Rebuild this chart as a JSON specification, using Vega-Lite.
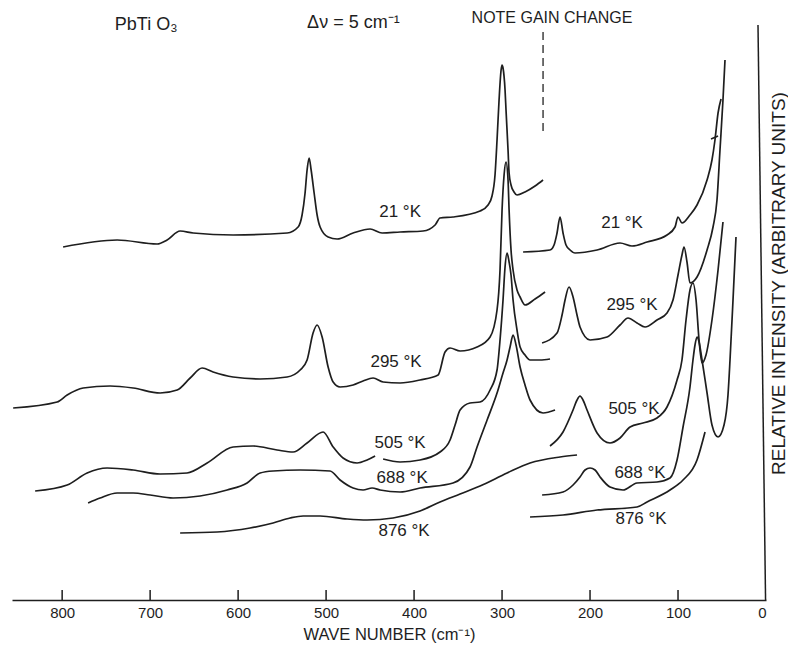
{
  "$schema": "https://vega.github.io/schema/vega-lite/v6.json",
  "width": 754,
  "height": 600,
  "autosize": {"type": "none"},
  "padding": {"left": 12, "top": 0, "right": 22, "bottom": 47},
  "background": "white",
  "config": {"view": {"stroke": null}, "font": "Liberation Sans"},
  "datasets": {
    "curves": [
      {"series": "21K-L", "wavenumber": 798.9, "intensity": 353},
      {"series": "21K-L", "wavenumber": 737.5, "intensity": 360},
      {"series": "21K-L", "wavenumber": 692.0, "intensity": 356},
      {"series": "21K-L", "wavenumber": 680.7, "intensity": 360},
      {"series": "21K-L", "wavenumber": 665.9, "intensity": 369},
      {"series": "21K-L", "wavenumber": 651.1, "intensity": 367},
      {"series": "21K-L", "wavenumber": 605.7, "intensity": 365},
      {"series": "21K-L", "wavenumber": 544.3, "intensity": 367},
      {"series": "21K-L", "wavenumber": 531.8, "intensity": 373},
      {"series": "21K-L", "wavenumber": 527.3, "intensity": 385},
      {"series": "21K-L", "wavenumber": 523.9, "intensity": 407},
      {"series": "21K-L", "wavenumber": 521.6, "intensity": 430},
      {"series": "21K-L", "wavenumber": 519.3, "intensity": 442},
      {"series": "21K-L", "wavenumber": 517.0, "intensity": 430},
      {"series": "21K-L", "wavenumber": 513.6, "intensity": 407},
      {"series": "21K-L", "wavenumber": 510.2, "intensity": 385},
      {"series": "21K-L", "wavenumber": 506.8, "intensity": 373},
      {"series": "21K-L", "wavenumber": 497.7, "intensity": 363},
      {"series": "21K-L", "wavenumber": 487.5, "intensity": 361},
      {"series": "21K-L", "wavenumber": 469.3, "intensity": 367},
      {"series": "21K-L", "wavenumber": 450.0, "intensity": 371},
      {"series": "21K-L", "wavenumber": 436.4, "intensity": 367},
      {"series": "21K-L", "wavenumber": 415.9, "intensity": 368},
      {"series": "21K-L", "wavenumber": 389.8, "intensity": 369},
      {"series": "21K-L", "wavenumber": 376.1, "intensity": 375},
      {"series": "21K-L", "wavenumber": 370.5, "intensity": 382},
      {"series": "21K-L", "wavenumber": 355.7, "intensity": 383},
      {"series": "21K-L", "wavenumber": 325.0, "intensity": 389},
      {"series": "21K-L", "wavenumber": 315.9, "intensity": 395},
      {"series": "21K-L", "wavenumber": 311.4, "intensity": 404},
      {"series": "21K-L", "wavenumber": 308.0, "intensity": 425},
      {"series": "21K-L", "wavenumber": 305.7, "intensity": 460},
      {"series": "21K-L", "wavenumber": 303.4, "intensity": 500},
      {"series": "21K-L", "wavenumber": 301.1, "intensity": 530},
      {"series": "21K-L", "wavenumber": 300.0, "intensity": 535},
      {"series": "21K-L", "wavenumber": 298.9, "intensity": 532},
      {"series": "21K-L", "wavenumber": 296.6, "intensity": 510},
      {"series": "21K-L", "wavenumber": 295.5, "intensity": 490},
      {"series": "21K-L", "wavenumber": 293.2, "intensity": 450},
      {"series": "21K-L", "wavenumber": 292.0, "intensity": 427},
      {"series": "21K-L", "wavenumber": 289.8, "intensity": 415},
      {"series": "21K-L", "wavenumber": 286.4, "intensity": 408},
      {"series": "21K-L", "wavenumber": 283.0, "intensity": 405},
      {"series": "21K-L", "wavenumber": 273.9, "intensity": 408},
      {"series": "21K-L", "wavenumber": 262.5, "intensity": 414},
      {"series": "21K-L", "wavenumber": 253.4, "intensity": 420},

      {"series": "295K-L", "wavenumber": 855.7, "intensity": 192},
      {"series": "295K-L", "wavenumber": 805.7, "intensity": 198},
      {"series": "295K-L", "wavenumber": 794.3, "intensity": 205},
      {"series": "295K-L", "wavenumber": 776.1, "intensity": 212},
      {"series": "295K-L", "wavenumber": 745.5, "intensity": 214},
      {"series": "295K-L", "wavenumber": 719.3, "intensity": 212},
      {"series": "295K-L", "wavenumber": 688.6, "intensity": 207},
      {"series": "295K-L", "wavenumber": 669.3, "intensity": 210},
      {"series": "295K-L", "wavenumber": 654.5, "intensity": 222},
      {"series": "295K-L", "wavenumber": 640.9, "intensity": 232},
      {"series": "295K-L", "wavenumber": 628.4, "intensity": 228},
      {"series": "295K-L", "wavenumber": 605.7, "intensity": 223},
      {"series": "295K-L", "wavenumber": 575.0, "intensity": 221},
      {"series": "295K-L", "wavenumber": 544.3, "intensity": 223},
      {"series": "295K-L", "wavenumber": 529.5, "intensity": 230},
      {"series": "295K-L", "wavenumber": 521.6, "intensity": 240},
      {"series": "295K-L", "wavenumber": 514.8, "intensity": 267},
      {"series": "295K-L", "wavenumber": 510.2, "intensity": 275},
      {"series": "295K-L", "wavenumber": 504.5, "intensity": 263},
      {"series": "295K-L", "wavenumber": 497.7, "intensity": 233},
      {"series": "295K-L", "wavenumber": 492.0, "intensity": 218},
      {"series": "295K-L", "wavenumber": 484.1, "intensity": 213},
      {"series": "295K-L", "wavenumber": 469.3, "intensity": 215},
      {"series": "295K-L", "wavenumber": 458.0, "intensity": 219},
      {"series": "295K-L", "wavenumber": 446.6, "intensity": 222},
      {"series": "295K-L", "wavenumber": 435.2, "intensity": 218},
      {"series": "295K-L", "wavenumber": 415.9, "intensity": 217},
      {"series": "295K-L", "wavenumber": 393.2, "intensity": 220},
      {"series": "295K-L", "wavenumber": 372.7, "intensity": 225},
      {"series": "295K-L", "wavenumber": 364.8, "intensity": 248},
      {"series": "295K-L", "wavenumber": 359.1, "intensity": 252},
      {"series": "295K-L", "wavenumber": 347.7, "intensity": 249},
      {"series": "295K-L", "wavenumber": 328.4, "intensity": 253},
      {"series": "295K-L", "wavenumber": 313.6, "intensity": 263},
      {"series": "295K-L", "wavenumber": 305.7, "intensity": 290},
      {"series": "295K-L", "wavenumber": 302.3, "intensity": 330},
      {"series": "295K-L", "wavenumber": 300.0, "intensity": 390},
      {"series": "295K-L", "wavenumber": 297.7, "intensity": 425},
      {"series": "295K-L", "wavenumber": 295.5, "intensity": 438},
      {"series": "295K-L", "wavenumber": 293.2, "intensity": 420},
      {"series": "295K-L", "wavenumber": 292.0, "intensity": 390},
      {"series": "295K-L", "wavenumber": 289.8, "intensity": 350},
      {"series": "295K-L", "wavenumber": 287.5, "intensity": 330},
      {"series": "295K-L", "wavenumber": 283.0, "intensity": 310},
      {"series": "295K-L", "wavenumber": 279.5, "intensity": 303},
      {"series": "295K-L", "wavenumber": 273.9, "intensity": 295},
      {"series": "295K-L", "wavenumber": 262.5, "intensity": 301},
      {"series": "295K-L", "wavenumber": 251.1, "intensity": 308},

      {"series": "505K-La", "wavenumber": 830.7, "intensity": 109},
      {"series": "505K-La", "wavenumber": 794.3, "intensity": 115},
      {"series": "505K-La", "wavenumber": 771.6, "intensity": 127},
      {"series": "505K-La", "wavenumber": 748.9, "intensity": 132},
      {"series": "505K-La", "wavenumber": 719.3, "intensity": 130},
      {"series": "505K-La", "wavenumber": 688.6, "intensity": 126},
      {"series": "505K-La", "wavenumber": 658.0, "intensity": 127},
      {"series": "505K-La", "wavenumber": 635.2, "intensity": 137},
      {"series": "505K-La", "wavenumber": 605.7, "intensity": 153},
      {"series": "505K-La", "wavenumber": 583.0, "intensity": 154},
      {"series": "505K-La", "wavenumber": 555.7, "intensity": 150},
      {"series": "505K-La", "wavenumber": 537.5, "intensity": 148},
      {"series": "505K-La", "wavenumber": 521.6, "intensity": 157},
      {"series": "505K-La", "wavenumber": 503.4, "intensity": 168},
      {"series": "505K-La", "wavenumber": 492.0, "intensity": 153},
      {"series": "505K-La", "wavenumber": 480.7, "intensity": 142},
      {"series": "505K-La", "wavenumber": 464.8, "intensity": 137},
      {"series": "505K-La", "wavenumber": 453.4, "intensity": 140},
      {"series": "505K-La", "wavenumber": 444.3, "intensity": 144},

      {"series": "505K-Lb", "wavenumber": 435.2, "intensity": 141},
      {"series": "505K-Lb", "wavenumber": 415.9, "intensity": 138},
      {"series": "505K-Lb", "wavenumber": 393.2, "intensity": 140},
      {"series": "505K-Lb", "wavenumber": 370.5, "intensity": 148},
      {"series": "505K-Lb", "wavenumber": 359.1, "intensity": 160},
      {"series": "505K-Lb", "wavenumber": 353.4, "intensity": 175},
      {"series": "505K-Lb", "wavenumber": 347.7, "intensity": 190},
      {"series": "505K-Lb", "wavenumber": 336.4, "intensity": 197},
      {"series": "505K-Lb", "wavenumber": 325.0, "intensity": 198},
      {"series": "505K-Lb", "wavenumber": 313.6, "intensity": 210},
      {"series": "505K-Lb", "wavenumber": 305.7, "intensity": 230},
      {"series": "505K-Lb", "wavenumber": 302.3, "intensity": 260},
      {"series": "505K-Lb", "wavenumber": 298.9, "intensity": 300},
      {"series": "505K-Lb", "wavenumber": 296.6, "intensity": 333},
      {"series": "505K-Lb", "wavenumber": 294.3, "intensity": 347},
      {"series": "505K-Lb", "wavenumber": 292.0, "intensity": 338},
      {"series": "505K-Lb", "wavenumber": 289.8, "intensity": 325},
      {"series": "505K-Lb", "wavenumber": 287.5, "intensity": 300},
      {"series": "505K-Lb", "wavenumber": 283.0, "intensity": 270},
      {"series": "505K-Lb", "wavenumber": 279.5, "intensity": 253},
      {"series": "505K-Lb", "wavenumber": 273.9, "intensity": 245},
      {"series": "505K-Lb", "wavenumber": 268.2, "intensity": 240},
      {"series": "505K-Lb", "wavenumber": 256.8, "intensity": 240},
      {"series": "505K-Lb", "wavenumber": 245.5, "intensity": 241},

      {"series": "688K-L", "wavenumber": 770.5, "intensity": 97},
      {"series": "688K-L", "wavenumber": 756.8, "intensity": 102},
      {"series": "688K-L", "wavenumber": 737.5, "intensity": 107},
      {"series": "688K-L", "wavenumber": 719.3, "intensity": 107},
      {"series": "688K-L", "wavenumber": 700.0, "intensity": 105},
      {"series": "688K-L", "wavenumber": 673.9, "intensity": 102},
      {"series": "688K-L", "wavenumber": 643.2, "intensity": 104},
      {"series": "688K-L", "wavenumber": 612.5, "intensity": 110},
      {"series": "688K-L", "wavenumber": 589.8, "intensity": 117},
      {"series": "688K-L", "wavenumber": 575.0, "intensity": 127},
      {"series": "688K-L", "wavenumber": 560.2, "intensity": 129},
      {"series": "688K-L", "wavenumber": 529.5, "intensity": 130},
      {"series": "688K-L", "wavenumber": 495.5, "intensity": 129},
      {"series": "688K-L", "wavenumber": 484.1, "intensity": 120},
      {"series": "688K-L", "wavenumber": 469.3, "intensity": 112},
      {"series": "688K-L", "wavenumber": 458.0, "intensity": 110},
      {"series": "688K-L", "wavenumber": 447.7, "intensity": 112},
      {"series": "688K-L", "wavenumber": 438.6, "intensity": 110},
      {"series": "688K-L", "wavenumber": 415.9, "intensity": 108},
      {"series": "688K-L", "wavenumber": 393.2, "intensity": 112},
      {"series": "688K-L", "wavenumber": 355.7, "intensity": 117},
      {"series": "688K-L", "wavenumber": 336.4, "intensity": 133},
      {"series": "688K-L", "wavenumber": 328.4, "intensity": 153},
      {"series": "688K-L", "wavenumber": 317.0, "intensity": 180},
      {"series": "688K-L", "wavenumber": 305.7, "intensity": 207},
      {"series": "688K-L", "wavenumber": 298.9, "intensity": 227},
      {"series": "688K-L", "wavenumber": 294.3, "intensity": 240},
      {"series": "688K-L", "wavenumber": 290.9, "intensity": 253},
      {"series": "688K-L", "wavenumber": 287.5, "intensity": 265},
      {"series": "688K-L", "wavenumber": 284.1, "intensity": 255},
      {"series": "688K-L", "wavenumber": 279.5, "intensity": 233},
      {"series": "688K-L", "wavenumber": 273.9, "intensity": 215},
      {"series": "688K-L", "wavenumber": 268.2, "intensity": 200},
      {"series": "688K-L", "wavenumber": 253.4, "intensity": 187},
      {"series": "688K-L", "wavenumber": 239.8, "intensity": 190},

      {"series": "876K-L", "wavenumber": 665.9, "intensity": 67},
      {"series": "876K-L", "wavenumber": 623.9, "intensity": 68},
      {"series": "876K-L", "wavenumber": 586.4, "intensity": 72},
      {"series": "876K-L", "wavenumber": 560.2, "intensity": 77},
      {"series": "876K-L", "wavenumber": 540.9, "intensity": 82},
      {"series": "876K-L", "wavenumber": 526.1, "intensity": 84},
      {"series": "876K-L", "wavenumber": 506.8, "intensity": 84},
      {"series": "876K-L", "wavenumber": 476.1, "intensity": 81},
      {"series": "876K-L", "wavenumber": 453.4, "intensity": 80},
      {"series": "876K-L", "wavenumber": 423.9, "intensity": 82},
      {"series": "876K-L", "wavenumber": 393.2, "intensity": 89},
      {"series": "876K-L", "wavenumber": 370.5, "intensity": 98},
      {"series": "876K-L", "wavenumber": 347.7, "intensity": 106},
      {"series": "876K-L", "wavenumber": 325.0, "intensity": 114},
      {"series": "876K-L", "wavenumber": 294.3, "intensity": 127},
      {"series": "876K-L", "wavenumber": 268.2, "intensity": 137},
      {"series": "876K-L", "wavenumber": 234.1, "intensity": 143},
      {"series": "876K-L", "wavenumber": 214.8, "intensity": 145},

      {"series": "21K-R", "wavenumber": 276.1, "intensity": 348},
      {"series": "21K-R", "wavenumber": 245.5, "intensity": 350},
      {"series": "21K-R", "wavenumber": 240.9, "intensity": 355},
      {"series": "21K-R", "wavenumber": 237.5, "intensity": 367},
      {"series": "21K-R", "wavenumber": 234.1, "intensity": 383},
      {"series": "21K-R", "wavenumber": 230.7, "intensity": 367},
      {"series": "21K-R", "wavenumber": 227.3, "intensity": 355},
      {"series": "21K-R", "wavenumber": 222.7, "intensity": 350},
      {"series": "21K-R", "wavenumber": 217.0, "intensity": 347},
      {"series": "21K-R", "wavenumber": 192.0, "intensity": 350},
      {"series": "21K-R", "wavenumber": 165.9, "intensity": 357},
      {"series": "21K-R", "wavenumber": 152.3, "intensity": 354},
      {"series": "21K-R", "wavenumber": 135.2, "intensity": 358},
      {"series": "21K-R", "wavenumber": 112.5, "intensity": 365},
      {"series": "21K-R", "wavenumber": 103.4, "intensity": 373},
      {"series": "21K-R", "wavenumber": 100.0, "intensity": 383},
      {"series": "21K-R", "wavenumber": 95.5, "intensity": 377},
      {"series": "21K-R", "wavenumber": 86.4, "intensity": 385},
      {"series": "21K-R", "wavenumber": 78.4, "intensity": 395},
      {"series": "21K-R", "wavenumber": 67.0, "intensity": 420},
      {"series": "21K-R", "wavenumber": 61.4, "intensity": 440},
      {"series": "21K-R", "wavenumber": 58.0, "intensity": 460},
      {"series": "21K-R", "wavenumber": 54.5, "intensity": 487},
      {"series": "21K-R", "wavenumber": 51.1, "intensity": 501},

      {"series": "295K-R", "wavenumber": 254.5, "intensity": 257},
      {"series": "295K-R", "wavenumber": 237.5, "intensity": 267},
      {"series": "295K-R", "wavenumber": 231.8, "intensity": 285},
      {"series": "295K-R", "wavenumber": 228.4, "intensity": 300},
      {"series": "295K-R", "wavenumber": 223.9, "intensity": 313},
      {"series": "295K-R", "wavenumber": 219.3, "intensity": 303},
      {"series": "295K-R", "wavenumber": 214.8, "intensity": 285},
      {"series": "295K-R", "wavenumber": 211.4, "intensity": 273},
      {"series": "295K-R", "wavenumber": 200.0, "intensity": 260},
      {"series": "295K-R", "wavenumber": 180.7, "intensity": 263},
      {"series": "295K-R", "wavenumber": 165.9, "intensity": 275},
      {"series": "295K-R", "wavenumber": 156.8, "intensity": 282},
      {"series": "295K-R", "wavenumber": 146.6, "intensity": 277},
      {"series": "295K-R", "wavenumber": 137.5, "intensity": 273},
      {"series": "295K-R", "wavenumber": 123.9, "intensity": 280},
      {"series": "295K-R", "wavenumber": 112.5, "intensity": 287},
      {"series": "295K-R", "wavenumber": 105.7, "intensity": 300},
      {"series": "295K-R", "wavenumber": 100.0, "intensity": 325},
      {"series": "295K-R", "wavenumber": 95.5, "intensity": 345},
      {"series": "295K-R", "wavenumber": 93.2, "intensity": 353},
      {"series": "295K-R", "wavenumber": 89.8, "intensity": 338},
      {"series": "295K-R", "wavenumber": 86.4, "intensity": 317},
      {"series": "295K-R", "wavenumber": 78.4, "intensity": 323},
      {"series": "295K-R", "wavenumber": 67.0, "intensity": 350},
      {"series": "295K-R", "wavenumber": 60.2, "intensity": 373},
      {"series": "295K-R", "wavenumber": 55.7, "intensity": 400},
      {"series": "295K-R", "wavenumber": 52.3, "intensity": 450},
      {"series": "295K-R", "wavenumber": 48.9, "intensity": 500},
      {"series": "295K-R", "wavenumber": 46.6, "intensity": 540},

      {"series": "505K-R", "wavenumber": 245.5, "intensity": 154},
      {"series": "505K-R", "wavenumber": 230.7, "intensity": 168},
      {"series": "505K-R", "wavenumber": 219.3, "intensity": 190},
      {"series": "505K-R", "wavenumber": 214.8, "intensity": 200},
      {"series": "505K-R", "wavenumber": 211.4, "intensity": 204},
      {"series": "505K-R", "wavenumber": 208.0, "intensity": 200},
      {"series": "505K-R", "wavenumber": 203.4, "intensity": 190},
      {"series": "505K-R", "wavenumber": 192.0, "intensity": 167},
      {"series": "505K-R", "wavenumber": 177.3, "intensity": 157},
      {"series": "505K-R", "wavenumber": 165.9, "intensity": 162},
      {"series": "505K-R", "wavenumber": 154.5, "intensity": 173},
      {"series": "505K-R", "wavenumber": 139.8, "intensity": 177},
      {"series": "505K-R", "wavenumber": 123.9, "intensity": 182},
      {"series": "505K-R", "wavenumber": 112.5, "intensity": 193},
      {"series": "505K-R", "wavenumber": 101.1, "intensity": 220},
      {"series": "505K-R", "wavenumber": 95.5, "intensity": 240},
      {"series": "505K-R", "wavenumber": 90.9, "intensity": 280},
      {"series": "505K-R", "wavenumber": 86.4, "intensity": 310},
      {"series": "505K-R", "wavenumber": 83.0, "intensity": 317},
      {"series": "505K-R", "wavenumber": 79.5, "intensity": 300},
      {"series": "505K-R", "wavenumber": 76.1, "intensity": 260},
      {"series": "505K-R", "wavenumber": 72.7, "intensity": 237},
      {"series": "505K-R", "wavenumber": 68.2, "intensity": 245},
      {"series": "505K-R", "wavenumber": 61.4, "intensity": 280},
      {"series": "505K-R", "wavenumber": 54.5, "intensity": 330},
      {"series": "505K-R", "wavenumber": 48.9, "intensity": 378},

      {"series": "688K-R", "wavenumber": 254.5, "intensity": 105},
      {"series": "688K-R", "wavenumber": 230.7, "intensity": 108},
      {"series": "688K-R", "wavenumber": 219.3, "intensity": 115},
      {"series": "688K-R", "wavenumber": 211.4, "intensity": 123},
      {"series": "688K-R", "wavenumber": 205.7, "intensity": 130},
      {"series": "688K-R", "wavenumber": 200.0, "intensity": 132},
      {"series": "688K-R", "wavenumber": 194.3, "intensity": 130},
      {"series": "688K-R", "wavenumber": 188.6, "intensity": 123},
      {"series": "688K-R", "wavenumber": 177.3, "intensity": 113},
      {"series": "688K-R", "wavenumber": 162.5, "intensity": 110},
      {"series": "688K-R", "wavenumber": 146.6, "intensity": 117},
      {"series": "688K-R", "wavenumber": 123.9, "intensity": 118},
      {"series": "688K-R", "wavenumber": 109.1, "intensity": 122},
      {"series": "688K-R", "wavenumber": 101.1, "intensity": 140},
      {"series": "688K-R", "wavenumber": 94.3, "intensity": 173},
      {"series": "688K-R", "wavenumber": 86.4, "intensity": 213},
      {"series": "688K-R", "wavenumber": 83.0, "intensity": 240},
      {"series": "688K-R", "wavenumber": 80.7, "intensity": 255},
      {"series": "688K-R", "wavenumber": 78.4, "intensity": 263},
      {"series": "688K-R", "wavenumber": 76.1, "intensity": 258},
      {"series": "688K-R", "wavenumber": 72.7, "intensity": 240},
      {"series": "688K-R", "wavenumber": 67.0, "intensity": 207},
      {"series": "688K-R", "wavenumber": 61.4, "intensity": 175},
      {"series": "688K-R", "wavenumber": 54.5, "intensity": 163},
      {"series": "688K-R", "wavenumber": 47.7, "intensity": 175},
      {"series": "688K-R", "wavenumber": 43.2, "intensity": 205},
      {"series": "688K-R", "wavenumber": 40.9, "intensity": 240},
      {"series": "688K-R", "wavenumber": 37.5, "intensity": 300},
      {"series": "688K-R", "wavenumber": 34.1, "intensity": 363},

      {"series": "876K-R", "wavenumber": 268.2, "intensity": 83},
      {"series": "876K-R", "wavenumber": 230.7, "intensity": 85},
      {"series": "876K-R", "wavenumber": 192.0, "intensity": 90},
      {"series": "876K-R", "wavenumber": 146.6, "intensity": 93},
      {"series": "876K-R", "wavenumber": 135.2, "intensity": 98},
      {"series": "876K-R", "wavenumber": 109.1, "intensity": 110},
      {"series": "876K-R", "wavenumber": 94.3, "intensity": 120},
      {"series": "876K-R", "wavenumber": 78.4, "intensity": 140},
      {"series": "876K-R", "wavenumber": 69.3, "intensity": 168}
    ],
    "labels": [
      {"label": "21 °K", "wavenumber": 415.9, "intensity": 388, "kind": "temp"},
      {"label": "21 °K", "wavenumber": 163.6, "intensity": 377, "kind": "temp"},
      {"label": "295 °K", "wavenumber": 420.5, "intensity": 238, "kind": "temp"},
      {"label": "295 °K", "wavenumber": 152.3, "intensity": 295, "kind": "temp"},
      {"label": "505 °K", "wavenumber": 415.9, "intensity": 157, "kind": "temp"},
      {"label": "505 °K", "wavenumber": 150.0, "intensity": 191, "kind": "temp"},
      {"label": "688 °K", "wavenumber": 413.6, "intensity": 122, "kind": "temp"},
      {"label": "688 °K", "wavenumber": 143.2, "intensity": 127, "kind": "temp"},
      {"label": "876 °K", "wavenumber": 411.4, "intensity": 69, "kind": "temp"},
      {"label": "876 °K", "wavenumber": 142.0, "intensity": 81, "kind": "temp"},
      {"label": "PbTi O₃", "wavenumber": 704.5, "intensity": 575, "kind": "head"},
      {"label": "Δν = 5 cm⁻¹", "wavenumber": 469.0, "intensity": 577, "kind": "head"},
      {"label": "NOTE GAIN CHANGE", "wavenumber": 243.2, "intensity": 582, "kind": "note"}
    ],
    "marks": [
      {"kind": "gain", "wavenumber": 253.4, "intensity": 568, "wavenumber2": 253.4, "intensity2": 468},
      {"kind": "frame", "wavenumber": 9.1, "intensity": 575, "wavenumber2": 0.5, "intensity2": 0},
      {"kind": "tick", "wavenumber": 62.5, "intensity": 461, "wavenumber2": 54.5, "intensity2": 464},
      {"kind": "axistick", "wavenumber": 100, "intensity": 0, "wavenumber2": 100, "intensity2": 10},
      {"kind": "axistick", "wavenumber": 200, "intensity": 0, "wavenumber2": 200, "intensity2": 10},
      {"kind": "axistick", "wavenumber": 300, "intensity": 0, "wavenumber2": 300, "intensity2": 10},
      {"kind": "axistick", "wavenumber": 400, "intensity": 0, "wavenumber2": 400, "intensity2": 10},
      {"kind": "axistick", "wavenumber": 500, "intensity": 0, "wavenumber2": 500, "intensity2": 10},
      {"kind": "axistick", "wavenumber": 600, "intensity": 0, "wavenumber2": 600, "intensity2": 10},
      {"kind": "axistick", "wavenumber": 700, "intensity": 0, "wavenumber2": 700, "intensity2": 10},
      {"kind": "axistick", "wavenumber": 800, "intensity": 0, "wavenumber2": 800, "intensity2": 10}
    ]
  },
  "encoding": {
    "x": {
      "field": "wavenumber", "type": "quantitative",
      "scale": {"domain": [0, 857], "reverse": true, "nice": false, "zero": false},
      "axis": {
        "title": "WAVE NUMBER (cm⁻¹)",
        "values": [0, 100, 200, 300, 400, 500, 600, 700, 800],
        "grid": false, "ticks": false,
        "domainColor": "#1e1e1e", "domainWidth": 1.6,
        "labelPadding": 5, "labelFontSize": 15, "labelColor": "#1e1e1e", "labelFont": "Liberation Sans",
        "titleFontSize": 16.5, "titleFontWeight": "normal", "titleColor": "#1e1e1e", "titleFont": "Liberation Sans",
        "titleY": 34, "titleBaseline": "middle"
      }
    },
    "y": {
      "field": "intensity", "type": "quantitative",
      "scale": {"domain": [0, 600], "nice": false, "zero": false},
      "axis": {
        "orient": "right", "title": "RELATIVE INTENSITY (ARBITRARY UNITS)",
        "domain": false, "ticks": false, "labels": false, "grid": false,
        "titleAngle": 270, "titleX": 12, "titleY": 283, "titleAlign": "center", "titleBaseline": "middle",
        "titleFontSize": 19, "titleFontWeight": "normal", "titleColor": "#1e1e1e", "titleFont": "Liberation Sans"
      }
    }
  },
  "layer": [
    {
      "data": {"name": "curves"},
      "mark": {"type": "line", "interpolate": "monotone", "color": "#1e1e1e", "strokeWidth": 1.7},
      "encoding": {"detail": {"field": "series", "type": "nominal"}}
    },
    {
      "data": {"name": "marks"},
      "transform": [{"filter": "datum.kind === 'gain'"}],
      "mark": {"type": "rule", "color": "#333333", "strokeWidth": 1.4, "strokeDash": [8, 5]},
      "encoding": {"x2": {"field": "wavenumber2"}, "y2": {"field": "intensity2"}}
    },
    {
      "data": {"name": "marks"},
      "transform": [{"filter": "datum.kind !== 'gain'"}],
      "mark": {"type": "rule", "color": "#1e1e1e", "strokeWidth": 1.5},
      "encoding": {"x2": {"field": "wavenumber2"}, "y2": {"field": "intensity2"}}
    },
    {
      "data": {"name": "labels"},
      "transform": [{"filter": "datum.kind === 'temp'"}],
      "mark": {"type": "text", "font": "Liberation Sans", "fontSize": 17, "color": "#1e1e1e", "align": "center", "baseline": "middle"},
      "encoding": {"text": {"field": "label", "type": "nominal"}}
    },
    {
      "data": {"name": "labels"},
      "transform": [{"filter": "datum.kind === 'head'"}],
      "mark": {"type": "text", "font": "Liberation Sans", "fontSize": 18, "color": "#1e1e1e", "align": "center", "baseline": "middle"},
      "encoding": {"text": {"field": "label", "type": "nominal"}}
    },
    {
      "data": {"name": "labels"},
      "transform": [{"filter": "datum.kind === 'note'"}],
      "mark": {"type": "text", "font": "Liberation Sans", "fontSize": 16, "color": "#1e1e1e", "align": "center", "baseline": "middle"},
      "encoding": {"text": {"field": "label", "type": "nominal"}}
    }
  ]
}
